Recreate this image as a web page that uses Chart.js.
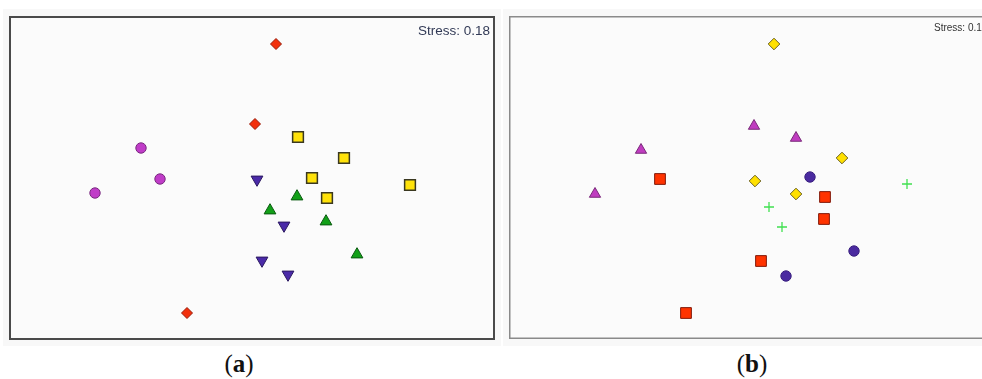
<!DOCTYPE html>
<html>
<head>
<meta charset="utf-8">
<script src="https://cdn.jsdelivr.net/npm/chart.js@4.4.1/dist/chart.umd.min.js"></script>
<style>
  html, body { margin: 0; padding: 0; background: #ffffff; width: 982px; height: 379px; overflow: hidden; position: relative; }
  .sheet { position: absolute; background: #f8f8f8; }
  canvas { position: absolute; display: block; }
  .cap { position: absolute; width: 100px; text-align: center; font-family: "Liberation Serif", "DejaVu Serif", serif; font-size: 25px; line-height: 1; color: #111; top: 351px; }
  .cap b { font-weight: bold; }
</style>
</head>
<body>
<div class="sheet" style="left:3px;top:9px;width:498px;height:337px;"></div>
<div class="sheet" style="left:503px;top:9px;width:479px;height:337px;"></div>
<canvas id="plotA" width="486" height="324" style="left:9px;top:16px;"></canvas>
<canvas id="plotB" width="500" height="323" style="left:509px;top:16px;"></canvas>
<div class="cap" style="left:189px;">(<b>a</b>)</div>
<div class="cap" style="left:702px;">(<b>b</b>)</div>
<script>
// ---- Panel (a): NMDS ordination scores per group ----
const aDiamondX  = [0.24, 0.03, -0.65];
const aDiamondY  = [1.34, 0.54, -1.35];
const aCircleX   = [-1.11, -0.92, -1.57];
const aCircleY   = [0.30, -0.01, -0.15];
const aSquareX   = [0.46, 0.92, 0.60, 0.75, 1.58];
const aSquareY   = [0.41, 0.20, 0.00, -0.20, -0.07];
const aDownTriX  = [0.05, 0.32, 0.10, 0.36];
const aDownTriY  = [-0.015, -0.475, -0.825, -0.965];
const aUpTriX    = [0.45, 0.18, 0.74, 1.05];
const aUpTriY    = [-0.185, -0.325, -0.435, -0.765];
const aStress    = 'Stress: 0.18';

// ---- Panel (b): NMDS ordination scores per group ----
const bDiamondX  = [0.14, 0.82, -0.05, 0.36];
const bDiamondY  = [1.34, 0.20, -0.03, -0.16];
const bTriX      = [-0.06, 0.36, -1.19, -1.65];
const bTriY      = [0.52, 0.40, 0.28, -0.16];
const bSquareX   = [-1.00, 0.65, 0.64, 0.01, -0.74];
const bSquareY   = [-0.01, -0.19, -0.41, -0.83, -1.35];
const bCircleX   = [0.50, 0.94, 0.26];
const bCircleY   = [0.01, -0.73, -0.98];
const bPlusX     = [1.47, 0.09, 0.22];
const bPlusY     = [-0.06, -0.29, -0.49];
const bStress    = 'Stress: 0.17';

function pts(xs, ys) { return xs.map((x, i) => ({ x: x, y: ys[i] })); }

function group(xs, ys, style) {
  return Object.assign({ data: pts(xs, ys), clip: false, pointHoverRadius: style.pointRadius }, style);
}

// Plot background, border box and stress annotation
const framePlugin = {
  id: 'frameBox',
  beforeDraw(chart, args, opts) {
    const ctx = chart.ctx;
    ctx.save();
    ctx.fillStyle = opts.fill;
    ctx.fillRect(0, 0, chart.width, chart.height);
    ctx.restore();
  },
  afterDraw(chart, args, opts) {
    const ctx = chart.ctx;
    ctx.save();
    ctx.strokeStyle = opts.color;
    ctx.lineWidth = opts.lineWidth;
    const h = opts.lineWidth / 2;
    ctx.strokeRect(h, h, chart.width - 2 * h, chart.height - 2 * h);
    ctx.fillStyle = opts.textColor;
    ctx.font = opts.font;
    ctx.textAlign = opts.align;
    ctx.textBaseline = 'alphabetic';
    ctx.fillText(opts.text, opts.tx, opts.ty);
    ctx.restore();
  }
};

function makeChart(id, datasets, xr, yr, frame) {
  return new Chart(document.getElementById(id), {
    type: 'scatter',
    data: { datasets: datasets },
    options: {
      responsive: false,
      animation: false,
      devicePixelRatio: 1,
      layout: { padding: 0, autoPadding: false },
      events: [],
      scales: {
        x: { type: 'linear', display: false, min: xr[0], max: xr[1] },
        y: { type: 'linear', display: false, min: yr[0], max: yr[1] }
      },
      plugins: {
        legend: { display: false },
        tooltip: { enabled: false },
        frameBox: frame
      }
    },
    plugins: [framePlugin]
  });
}

makeChart('plotA', [
  group(aDiamondX, aDiamondY, { pointStyle: 'rectRot', pointRadius: 5.5, backgroundColor: '#f2300c', borderColor: '#9a1a08', borderWidth: 1 }),
  group(aCircleX, aCircleY, { pointStyle: 'circle', pointRadius: 5.2, backgroundColor: '#c03cc8', borderColor: '#7a2a80', borderWidth: 1 }),
  group(aSquareX, aSquareY, { pointStyle: 'rect', pointRadius: 7.6, backgroundColor: '#ffe20a', borderColor: '#3a3820', borderWidth: 1.5 }),
  group(aDownTriX, aDownTriY, { pointStyle: 'triangle', rotation: 180, pointRadius: 6.8, backgroundColor: '#4a2aa8', borderColor: '#2a1860', borderWidth: 1 }),
  group(aUpTriX, aUpTriY, { pointStyle: 'triangle', pointRadius: 6.8, backgroundColor: '#12a018', borderColor: '#0a5a10', borderWidth: 1 })
], [-2.43, 2.43], [-1.62, 1.62], {
  fill: '#fbfbfb', color: '#4a4a4a', lineWidth: 2,
  text: aStress, font: '13.5px "Liberation Sans", Arial, sans-serif', textColor: '#323a56',
  align: 'right', tx: 481, ty: 19
});

makeChart('plotB', [
  group(bDiamondX, bDiamondY, { pointStyle: 'rectRot', pointRadius: 5.8, backgroundColor: '#ffe000', borderColor: '#6a6020', borderWidth: 1 }),
  group(bTriX, bTriY, { pointStyle: 'triangle', pointRadius: 6.5, backgroundColor: '#c03cc0', borderColor: '#7a2a7a', borderWidth: 1 }),
  group(bSquareX, bSquareY, { pointStyle: 'rect', pointRadius: 7.6, backgroundColor: '#ff3300', borderColor: '#801808', borderWidth: 1 }),
  group(bCircleX, bCircleY, { pointStyle: 'circle', pointRadius: 5.2, backgroundColor: '#4a2aa0', borderColor: '#3a2080', borderWidth: 1 }),
  group(bPlusX, bPlusY, { pointStyle: 'cross', pointRadius: 5, backgroundColor: '#40e050', borderColor: '#40e050', borderWidth: 1.3 })
], [-2.51, 2.49], [-1.61, 1.62], {
  fill: '#fbfbfb', color: '#8a8a8a', lineWidth: 1.5,
  text: bStress, font: '10px "Liberation Sans", Arial, sans-serif', textColor: '#333333',
  align: 'left', tx: 425, ty: 15
});
</script>
</body>
</html>
